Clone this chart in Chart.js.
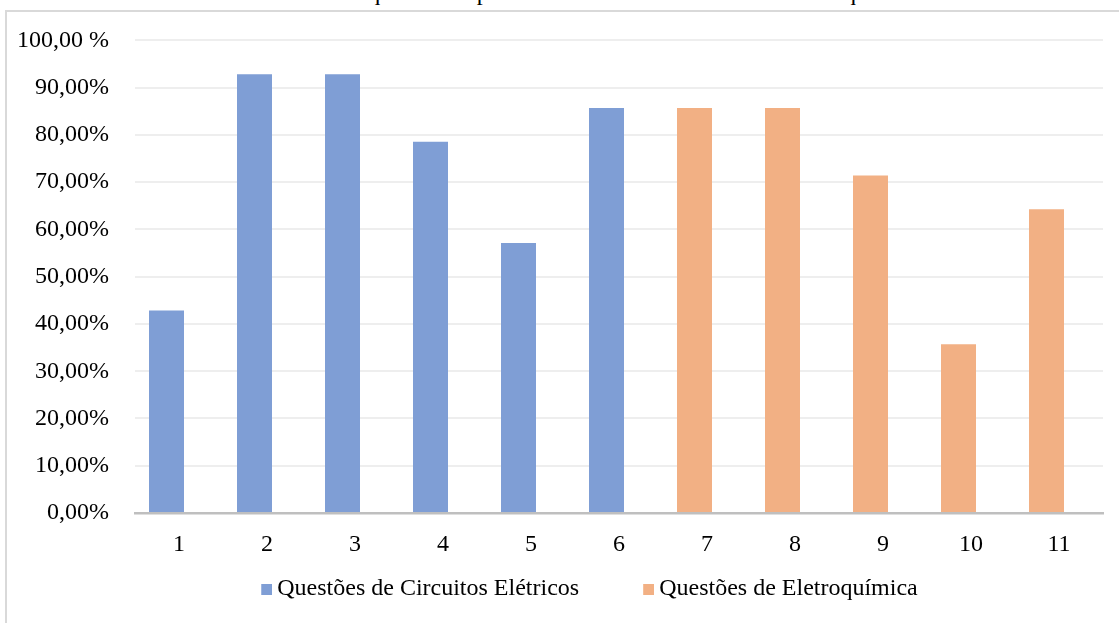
<!DOCTYPE html>
<html>
<head>
<meta charset="utf-8">
<script src="https://cdn.jsdelivr.net/npm/chart.js@4"></script>
<style>
  html, body { margin: 0; padding: 0; background: #fff; overflow: hidden; }
  #wrap { position: relative; width: 1119px; height: 623px; }
  #titulo { position: absolute; left: 5px; top: -20px; white-space: nowrap;
            font: 24px "Liberation Serif", serif; line-height: 24px; color: #000; }
  #moldura { position: absolute; left: 5px; top: 10px; width: 1200px; height: 700px;
             border-left: 2px solid #d9d9d9; border-top: 2px solid #d9d9d9; }
  #grafico { position: absolute; left: 0; top: 0; }
</style>
</head>
<body>
<div id="wrap">
  <div id="titulo">Gráfico 1 – Percentual de acertos das questões específicas de circuitos elétricos e eletroquímica</div>
  <div id="moldura"></div>
  <canvas id="grafico" width="1119" height="623"></canvas>
</div>
<script>
// questoes 1..11
const questoes = ['1', '2', '3', '4', '5', '6', '7', '8', '9', '10', '11'];
// percentual de acertos (%)
const circuitos = [42.86, 92.86, 92.86, 78.57, 57.14, 85.71, null, null, null, null, null];
const eletroquimica = [null, null, null, null, null, null, 85.71, 85.71, 71.43, 35.71, 64.29];
// rotulos do eixo y, de 0 a 100
const rotulosY = ['0,00%', '10,00%', '20,00%', '30,00%', '40,00%', '50,00%',
                  '60,00%', '70,00%', '80,00%', '90,00%', '100,00 %'];
const cores = ['#7f9ed5', '#f2b084'];

const fonte = { family: '"Liberation Serif", "Times New Roman", serif', size: 24 };

// quadradinho da legenda: 11px, perto do texto (como no Excel)
function marcador(cor) {
    const c = document.createElement('canvas');
    c.width = 82;
    c.height = 11;
    const g = c.getContext('2d');
    g.fillStyle = cor;
    g.fillRect(71, 0, 11, 11);
    return c;
}
const marcadores = cores.map(marcador);

new Chart('grafico', {
    type: 'bar',
    data: {
        labels: questoes,
        datasets: [{
            label: 'Questões de Circuitos Elétricos',
            data: circuitos,
            backgroundColor: cores[0],
            stack: 'a'
        }, {
            label: 'Questões de Eletroquímica',
            data: eletroquimica,
            backgroundColor: cores[1],
            stack: 'a'
        }, {
            // serie vazia, so para deslocar as barras como no Excel
            label: '',
            data: [],
            stack: 'b'
        }]
    },
    options: {
        responsive: false,
        animation: false,
        categoryPercentage: 50 / 88,
        barPercentage: 1.4,
        layout: { padding: { left: 12, right: 16, top: 40, bottom: 12 } },
        scales: {
            x: {
                afterFit: (s) => { s.height = 64; },
                grid: { display: false, drawTicks: false },
                border: { color: '#bfbfbf', width: 2.5 },
                ticks: { color: '#000', font: fonte, padding: 17 }
            },
            y: {
                min: 0,
                max: 100,
                afterFit: (s) => { s.width = 123; },
                grid: { color: '#eeeeee', lineWidth: 2, drawTicks: false },
                border: { display: false },
                ticks: {
                    stepSize: 10,
                    color: '#000',
                    font: fonte,
                    padding: 26,
                    callback: (v, i) => rotulosY[i]
                }
            }
        },
        plugins: {
            legend: {
                position: 'bottom',
                labels: {
                    color: '#000',
                    font: fonte,
                    usePointStyle: true,
                    pointStyleWidth: 68,
                    padding: 0,
                    filter: (item) => item.datasetIndex < 2,
                    generateLabels: (chart) => {
                        const itens = Chart.defaults.plugins.legend.labels.generateLabels(chart);
                        itens.forEach((it) => { it.pointStyle = marcadores[it.datasetIndex]; });
                        return itens;
                    }
                }
            },
            tooltip: { enabled: false }
        }
    }
});
</script>
</body>
</html>
